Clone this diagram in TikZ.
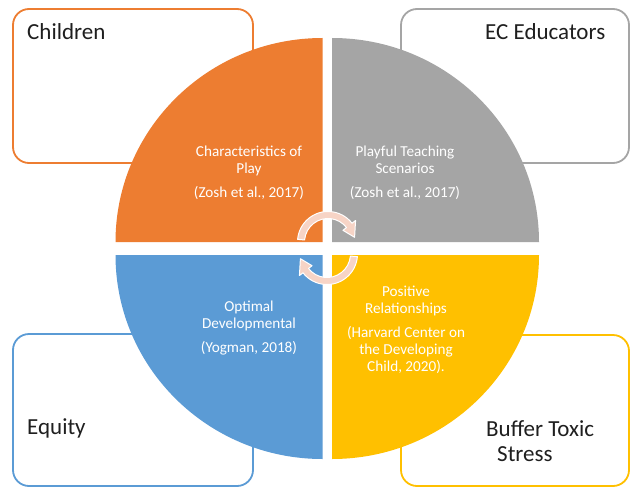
\documentclass[tikz,border=0pt]{standalone}
\usepackage{fontspec}
\setmainfont{Carlito}
\definecolor{qorange}{HTML}{ED7D31}
\definecolor{qgray}{HTML}{A5A5A5}
\definecolor{qblue}{HTML}{5B9BD5}
\definecolor{qyellow}{HTML}{FFC000}
\definecolor{cyclefill}{RGB}{247,212,198}
\definecolor{labeltext}{HTML}{1F1F1F}
\begin{document}
\begin{tikzpicture}[x=1pt,y=1pt,
  framebox/.style={draw=#1, line width=1.8pt, rounded corners=16pt},
  boxlabel/.style={anchor=base west, inner sep=0pt, text=labeltext,
    font=\fontsize{23}{25}\selectfont},
  quadtext/.style={anchor=base, align=center, inner sep=0pt, text=white,
    font=\fontsize{15.2}{17}\selectfont},
  cyclearrow/.style={fill=cyclefill, draw=white, line width=1pt, line join=round}
]
\useasboundingbox (0,0) rectangle (631,-487);
\fill[white] (0,0) rectangle (631,-487);

% outer rounded frames, one per corner
\draw[framebox=qorange] (13,-9)   rectangle (253,-163);
\draw[framebox=qgray]   (401,-9)  rectangle (629,-163);
\draw[framebox=qblue]   (13,-334) rectangle (253,-486);
\draw[framebox=qyellow] (401,-335) rectangle (629,-486);

% four quarter discs of the central circle
\fill[qorange] (322.5,-242) -- ++(-207,0)
  arc[start angle=180, end angle=90, x radius=207, y radius=204] -- cycle;
\fill[qgray] (332,-242) -- ++(0,204)
  arc[start angle=90, end angle=0, x radius=207, y radius=204] -- cycle;
\fill[qblue] (322.5,-255) -- ++(-207,0)
  arc[start angle=180, end angle=270, x radius=207, y radius=204] -- cycle;
\fill[qyellow] (332,-255) -- ++(207,0)
  arc[start angle=0, end angle=-90, x radius=207, y radius=204] -- cycle;

% texts inside the quarters (anchored on the baseline of the last line)
\node[quadtext] (play) at (249,-197)
  {Characteristics of\\Play\\[7pt](Zosh et al., 2017)};
\node[quadtext] (teaching) at (405,-197)
  {Playful Teaching\\Scenarios\\[7pt](Zosh et al., 2017)};
\node[quadtext] (optimal) at (249,-352)
  {Optimal\\Developmental\\[7pt](Yogman, 2018)};
\node[quadtext] (relations) at (406,-371)
  {Positive\\Relationships\\[7pt](Harvard Center on\\the Developing\\Child, 2020).};

% frame labels
\node[boxlabel] (children) at (27,-40) {Children};
\node[boxlabel] (educators) at (485,-40) {EC Educators};
\node[boxlabel] (equity) at (27,-434) {Equity};
\node[boxlabel, align=left] (stress) at (486,-461)
  {Buffer Toxic\\\hspace*{11pt}Stress};

% circular arrows in the middle
\begin{scope}[shift={(328,-242)}]
  \draw[cyclearrow] (175:30.5) arc[start angle=175, end angle=38, radius=30.5]
    -- (38:35) -- (10:27) -- (38:19) -- (38:23.5)
    arc[start angle=38, end angle=175, radius=23.5] -- cycle;
\end{scope}
\begin{scope}[shift={(327,-254)}]
  \draw[cyclearrow] (355:30.5) arc[start angle=355, end angle=218, radius=30.5]
    -- (218:35) -- (190:27) -- (218:19) -- (218:23.5)
    arc[start angle=218, end angle=355, radius=23.5] -- cycle;
\end{scope}
\end{tikzpicture}
\end{document}
